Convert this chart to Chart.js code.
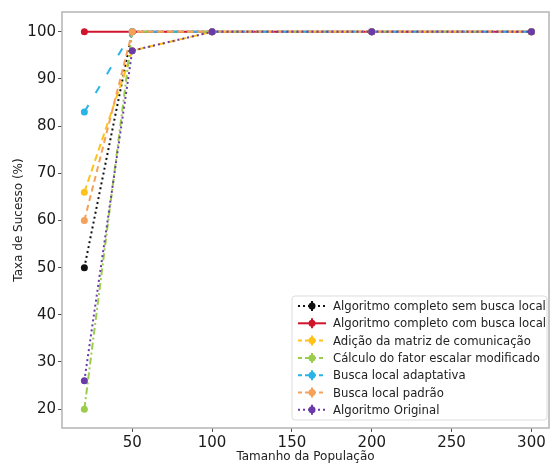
<!DOCTYPE html>
<html>
<head>
<meta charset="utf-8">
<script src="https://cdn.jsdelivr.net/npm/chart.js@4"></script>
<style>
  body { margin: 0; background: #fff; }
  canvas { display: block; }
</style>
</head>
<body>
<canvas id="grafico" width="553" height="465"></canvas>
<script>
const populacao = [20, 50, 100, 200, 300];
const semBuscaLocal = [50, 100, 100, 100, 100];
const comBuscaLocal = [100, 100, 100, 100, 100];
const matrizComunicacao = [66, 96, 100, 100, 100];
const fatorEscalar = [20, 100, 100, 100, 100];
const buscaAdaptativa = [83, 100, 100, 100, 100];
const buscaPadrao = [60, 100, 100, 100, 100];
const algoritmoOriginal = [26, 96, 100, 100, 100];
const xTicks = [50, 100, 150, 200, 250, 300];
const yTicks = [20, 30, 40, 50, 60, 70, 80, 90, 100];

const series = [
  { label: 'Algoritmo completo sem busca local', data: semBuscaLocal, color: '#111111', dash: [2, 3] },
  { label: 'Algoritmo completo com busca local', data: comBuscaLocal, color: '#d0142c', dash: [] },
  { label: 'Adição da matriz de comunicação', data: matrizComunicacao, color: '#ffc21a', dash: [7, 4] },
  { label: 'Cálculo do fator escalar modificado', data: fatorEscalar, color: '#9acd4c', dash: [7, 3, 2, 3] },
  { label: 'Busca local adaptativa', data: buscaAdaptativa, color: '#2ab4e6', dash: [8, 14] },
  { label: 'Busca local padrão', data: buscaPadrao, color: '#f5a15a', dash: [6, 4] },
  { label: 'Algoritmo Original', data: algoritmoOriginal, color: '#6a3aa8', dash: [2, 3] }
];

const datasets = series.map((s, i) => ({
  label: s.label,
  data: s.data.map((v, j) => ({ x: populacao[j], y: v })),
  borderColor: s.color,
  backgroundColor: s.color,
  borderDash: s.dash,
  borderWidth: 2,
  pointRadius: 3.5,
  pointHoverRadius: 3.5,
  pointBorderWidth: 0,
  order: series.length - 1 - i
}));

// moldura e legenda dentro da area do grafico
const extras = {
  id: 'extras',
  afterDraw(chart) {
    const ctx = chart.ctx;
    const a = chart.chartArea;
    ctx.save();
    ctx.strokeStyle = '#b4b4b4';
    ctx.lineWidth = 1.5;
    ctx.strokeRect(a.left, a.top, a.right - a.left, a.bottom - a.top);

    const bx = 292, by = 296, bw = 255, bh = 124;
    ctx.fillStyle = 'rgba(255,255,255,0.85)';
    ctx.strokeStyle = '#dddddd';
    ctx.lineWidth = 1;
    ctx.beginPath();
    ctx.roundRect(bx, by, bw, bh, 3);
    ctx.fill();
    ctx.stroke();

    ctx.font = '11.7px "DejaVu Sans"';
    ctx.textBaseline = 'middle';
    series.forEach((s, i) => {
      const y = by + 10 + i * 17.3;
      ctx.strokeStyle = s.color;
      ctx.lineWidth = 2;
      ctx.setLineDash(s.dash.length ? [s.dash[0] > 4 ? 4 : 2, 3] : []);
      ctx.beginPath();
      ctx.moveTo(298, y);
      ctx.lineTo(326, y);
      ctx.stroke();
      ctx.setLineDash([]);
      ctx.beginPath();
      ctx.moveTo(312, y - 5);
      ctx.lineTo(312, y + 5);
      ctx.stroke();
      ctx.fillStyle = s.color;
      ctx.beginPath();
      ctx.arc(312, y, 3.5, 0, Math.PI * 2);
      ctx.fill();
      ctx.fillStyle = '#222';
      ctx.fillText(s.label, 333, y + 1);
    });
    ctx.restore();
  }
};

new Chart(document.getElementById('grafico'), {
  type: 'line',
  data: { datasets },
  options: {
    responsive: false,
    animation: false,
    layout: { padding: { left: 0, top: 12, right: 4, bottom: 0 } },
    plugins: { legend: { display: false }, tooltip: { enabled: false } },
    scales: {
      x: {
        type: 'linear',
        min: 6,
        max: 311,
        afterBuildTicks: s => { s.ticks = xTicks.map(v => ({ value: v })); },
        afterFit: s => { s.height = 37; },
        grid: { drawOnChartArea: false, tickLength: 4, color: '#555' },
        border: { display: false },
        ticks: { color: '#1a1a1a', font: { family: 'DejaVu Sans', size: 15 }, padding: 2, maxRotation: 0 },
        title: { display: true, text: 'Tamanho da População', color: '#222', font: { family: 'DejaVu Sans', size: 12 }, padding: { top: 0, bottom: 1 } }
      },
      y: {
        min: 16,
        max: 104.2,
        afterBuildTicks: s => { s.ticks = yTicks.map(v => ({ value: v })); },
        afterFit: s => { s.width = 62; },
        grid: { drawOnChartArea: false, tickLength: 4, color: '#555' },
        border: { display: false },
        ticks: { color: '#1a1a1a', font: { family: 'DejaVu Sans', size: 15 }, padding: 2 },
        title: { display: true, text: 'Taxa de Sucesso (%)', color: '#222', font: { family: 'DejaVu Sans', size: 12 }, padding: { top: 12, bottom: 0 } }
      }
    }
  },
  plugins: [extras]
});
</script>
</body>
</html>
